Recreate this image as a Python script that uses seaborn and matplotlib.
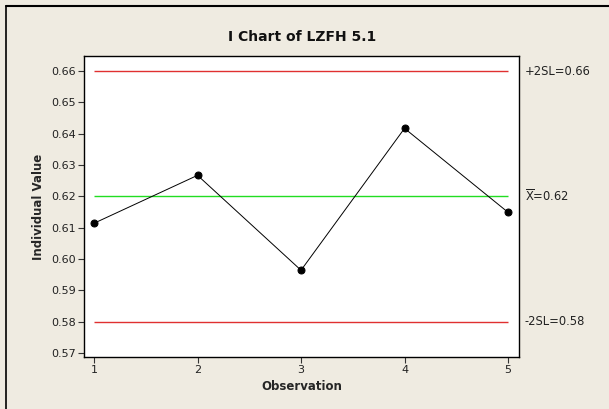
import matplotlib
matplotlib.use("Agg")
import matplotlib.pyplot as plt
import seaborn as sns
import pandas as pd
from matplotlib.lines import Line2D

# Individual observations for LZFH 5.1
observations = [1, 2, 3, 4, 5]
values = [0.6114, 0.6267, 0.5964, 0.6417, 0.6149]
center_line = 0.62
upper_limit = 0.66
lower_limit = 0.58
y_ticks = [0.57, 0.58, 0.59, 0.60, 0.61, 0.62, 0.63, 0.64, 0.65, 0.66]
y_tick_labels = ["0.57", "0.58", "0.59", "0.60", "0.61", "0.62", "0.63", "0.64", "0.65", "0.66"]

df = pd.DataFrame({"Observation": observations, "Individual Value": values})

sns.set_style("ticks")
plt.rcParams["font.family"] = ["DejaVu Sans"]

bg = "#EFEBE1"
fig = plt.figure(figsize=(6.09, 4.09), dpi=100, facecolor=bg)
ax = fig.add_axes([84 / 609, 1 - 357 / 409, (519 - 84) / 609, (357 - 56) / 409])
ax.set_facecolor("white")

# Control limits and center line across the observation range
x0, x1 = observations[0], observations[-1]
ax.hlines([upper_limit, lower_limit], x0, x1, color="#E03030", lw=1)
ax.hlines(center_line, x0, x1, color="#22DD22", lw=1)

sns.lineplot(data=df, x="Observation", y="Individual Value", ax=ax,
             color="black", lw=0.7, marker="o", markersize=5,
             markeredgecolor="black", markerfacecolor="black")

ax.set_xlim(0.903, 5.106)
ax.set_ylim(0.5687, 0.6648)
ax.set_xticks(observations)
ax.set_xticklabels([str(o) for o in observations])
ax.set_yticks(y_ticks)
ax.set_yticklabels(y_tick_labels)
ax.tick_params(axis="both", length=4, width=0.8, labelsize=8, color="#333333",
               labelcolor="#222222", pad=2)
for s in ax.spines.values():
    s.set_color("black")
    s.set_linewidth(1)

ax.set_xlabel("Observation", fontsize=8.5, fontweight="bold", labelpad=3)
ax.set_ylabel("Individual Value", fontsize=8.5, fontweight="bold", labelpad=4)

# Limit labels on the right side
lab_kw = dict(transform=ax.get_yaxis_transform(), fontsize=8.3, va="center",
              ha="left", color="#222222")
ax.text(1.013, upper_limit, f"+2SL={upper_limit:.2f}", **lab_kw)
ax.text(1.013, center_line, r"$\overline{\mathrm{X}}$" + f"={center_line:.2f}", **lab_kw)
ax.text(1.013, lower_limit, f"-2SL={lower_limit:.2f}", **lab_kw)

fig.text(302 / 609, 1 - 37 / 409, "I Chart of LZFH 5.1", ha="center", va="center",
         fontsize=10, fontweight="bold", color="#111111")

# Frame lines on the left and top of the figure
fig.add_artist(Line2D([6 / 609, 6 / 609], [0, 1 - 6 / 409], transform=fig.transFigure,
                      color="black", lw=1.2))
fig.add_artist(Line2D([6 / 609, 1], [1 - 6 / 409, 1 - 6 / 409], transform=fig.transFigure,
                      color="black", lw=1.5))

fig.savefig("out.png", dpi=100, facecolor=bg)
